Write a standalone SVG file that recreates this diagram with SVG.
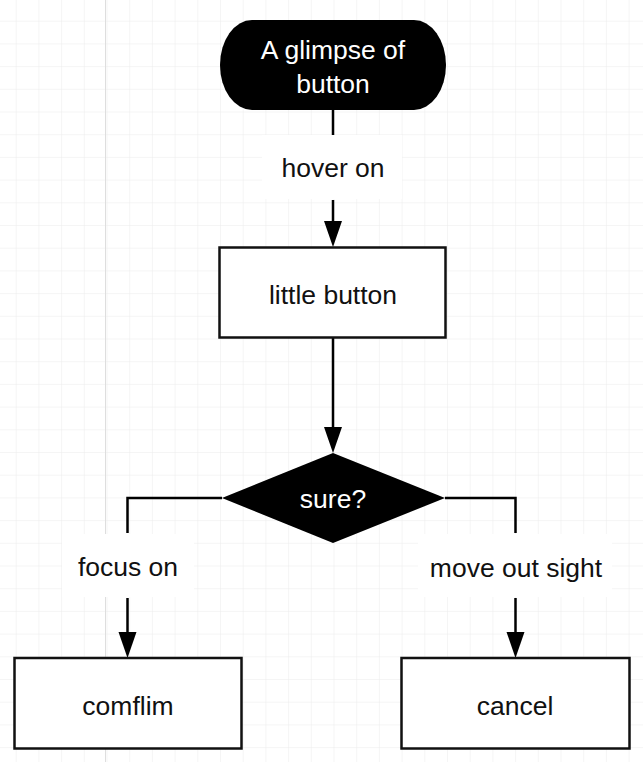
<svg xmlns="http://www.w3.org/2000/svg" width="643" height="762" viewBox="0 0 643 762">
<defs>
<pattern id="grid" x="15.7" y="20.7" width="22.7" height="22.7" patternUnits="userSpaceOnUse">
<path d="M0 0V22.7M0 0H22.7" fill="none" stroke="#ebebeb" stroke-width="1"/>
</pattern>
<style>
.lbl{font-family:"Liberation Sans",Arial,sans-serif;font-size:26.5px;fill:#111;text-anchor:middle}
.wt{fill:#fff}
.box{fill:#fff;stroke:#111;stroke-width:2.5}
.blk{fill:#000}
.ln{fill:none;stroke:#000;stroke-width:2.5}
.bg{fill:#fff}
</style>
</defs>
<rect width="643" height="762" fill="#fff"/>
<rect width="643" height="762" fill="url(#grid)"/>
<line x1="105.5" y1="0" x2="105.5" y2="762" stroke="#dedede" stroke-width="1"/>

<g id="connectors">
<rect class="bg" x="262" y="135" width="140" height="64"/>
<rect class="bg" x="62" y="534" width="132" height="63"/>
<rect class="bg" x="418" y="534" width="194" height="63"/>
<path class="ln" d="M333 110V135"/>
<path class="ln" d="M333 200V221"/>
<polygon class="blk" points="324,221 342,221 333,247"/>
<path class="ln" d="M333 338V427"/>
<polygon class="blk" points="324,427 342,427 333,453"/>
<path class="ln" d="M222 498H127.5V533"/>
<path class="ln" d="M127.5 598V632"/>
<polygon class="blk" points="118.5,632 136.5,632 127.5,658"/>
<path class="ln" d="M445 498H515.5V533"/>
<path class="ln" d="M515.5 598V632"/>
<polygon class="blk" points="506.5,632 524.5,632 515.5,658"/>
<text class="lbl" x="333" y="177">hover on</text>
<text class="lbl" x="128" y="576">focus on</text>
<text class="lbl" x="516" y="577">move out sight</text>
</g>

<g id="start">
<rect class="blk" x="220" y="20" width="226" height="90" rx="32" ry="45"/>
<text class="lbl wt" x="333" y="59">A glimpse of</text>
<text class="lbl wt" x="333" y="93">button</text>
</g>

<g id="little-button">
<rect class="box" x="219.5" y="247.5" width="226" height="90"/>
<text class="lbl" x="333" y="304">little button</text>
</g>

<g id="sure">
<polygon class="blk" points="333,453 445,498 333,543 222,498"/>
<text class="lbl wt" x="333" y="508">sure?</text>
</g>

<g id="comflim">
<rect class="box" x="14.5" y="658" width="227" height="90.5"/>
<text class="lbl" x="128" y="715">comflim</text>
</g>

<g id="cancel">
<rect class="box" x="401.5" y="658" width="228" height="90.5"/>
<text class="lbl" x="515" y="715">cancel</text>
</g>
</svg>
